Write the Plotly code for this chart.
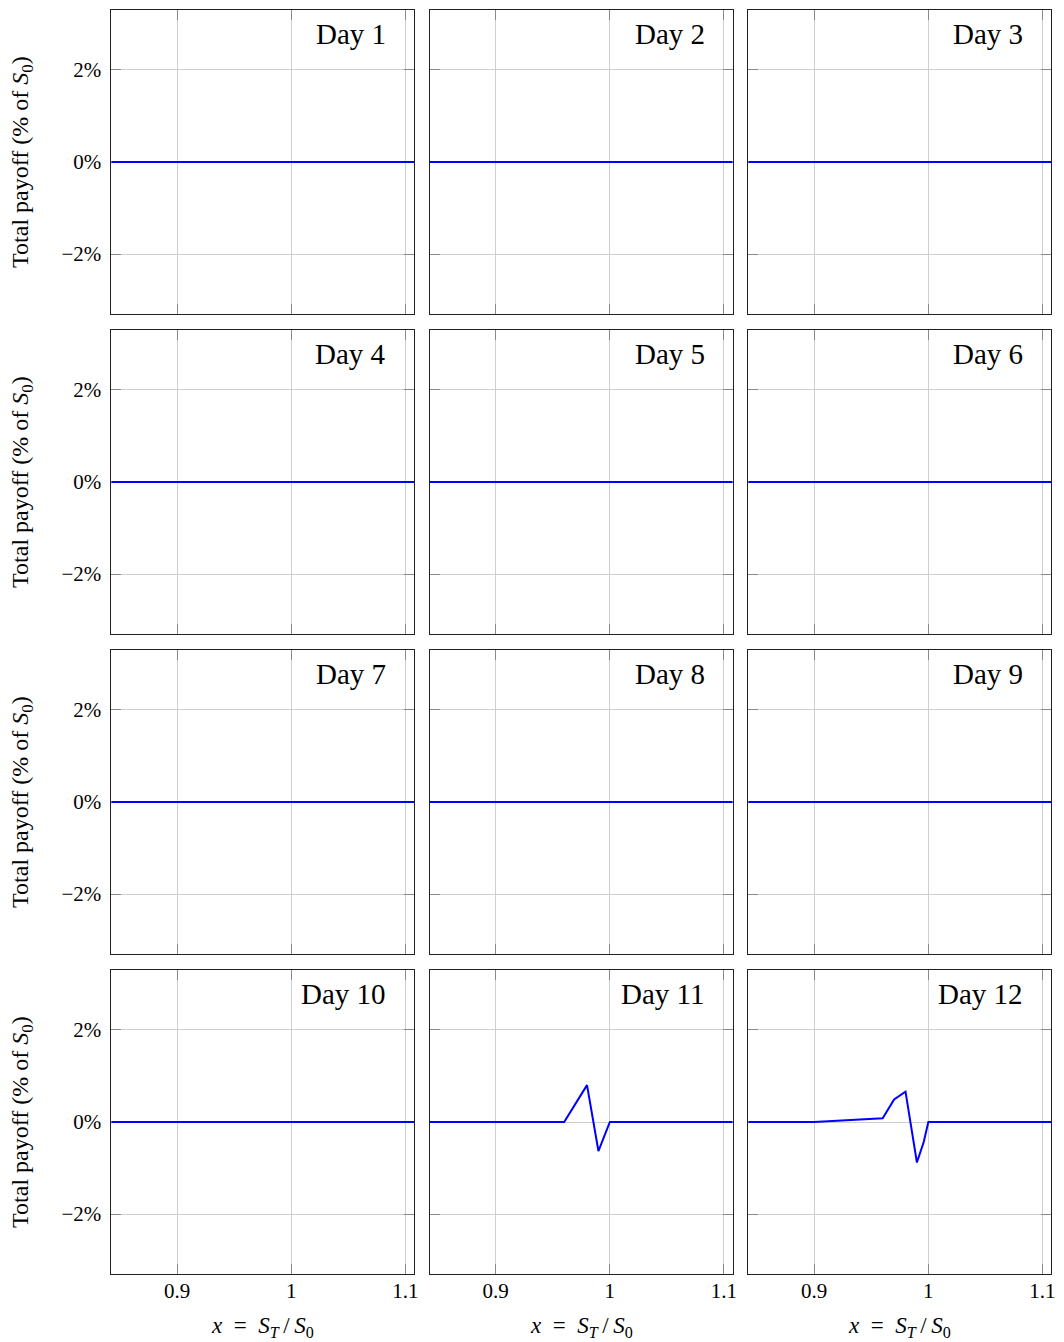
import plotly.graph_objects as go

# Payoff profiles (in % of S0) against x = S_T / S0, one panel per day
days = list(range(1, 13))

x_flat = [0.80, 1.20]
y_flat = [0.0, 0.0]

x_day11 = [0.80, 0.96, 0.98, 0.99, 1.00, 1.20]
y_day11 = [0.0, 0.0, 0.80, -0.63, 0.0, 0.0]

x_day12 = [0.80, 0.90, 0.96, 0.97, 0.98, 0.99, 0.996, 1.00, 1.20]
y_day12 = [0.0, 0.0, 0.08, 0.49, 0.66, -0.88, -0.43, 0.0, 0.0]

x_series = {d: x_flat for d in days}
y_series = {d: y_flat for d in days}
x_series[11], y_series[11] = x_day11, y_day11
x_series[12], y_series[12] = x_day12, y_day12

x_ticks = [0.9, 1.0, 1.1]
x_ticktext = ["0.9", "1", "1.1"]
y_ticks = [-2, 0, 2]
y_ticktext = ["\u22122%", "0%", "2%"]

W, H = 1064, 1342
col_px = [(112, 416), (432, 736), (752, 1056)]
row_px = [(10, 314), (330, 634), (650, 954), (970, 1274)]
FONT = "Liberation Serif"

fig = go.Figure()
layout = dict(
    width=W, height=H,
    margin=dict(l=0, r=0, t=0, b=0),
    paper_bgcolor="white", plot_bgcolor="white",
    showlegend=False,
    font=dict(family=FONT, size=21, color="black"),
)
annotations = []

for i, d in enumerate(days):
    r, c = divmod(i, 3)
    k = i + 1
    xa = "x" if k == 1 else f"x{k}"
    ya = "y" if k == 1 else f"y{k}"
    fig.add_trace(go.Scatter(
        x=x_series[d], y=y_series[d], mode="lines",
        line=dict(color="#0000ff", width=2),
        xaxis=xa, yaxis=ya, hoverinfo="skip",
    ))
    L, R = col_px[c]
    T, B = row_px[r]
    common = dict(
        showgrid=True, gridcolor="#cfcfcf", gridwidth=1,
        zeroline=False, showline=True, linecolor="#222", linewidth=1,
        mirror="ticks", ticks="inside", ticklen=10, tickcolor="#8a8a8a",
        tickwidth=1, layer="below traces",
        tickfont=dict(family=FONT, size=21, color="black"),
    )
    layout["xaxis" if k == 1 else f"xaxis{k}"] = dict(
        common, domain=[L / W, R / W], anchor=ya,
        range=[0.8424, 1.1075], tickvals=x_ticks, ticktext=x_ticktext,
        showticklabels=(r == 3), ticklabelstandoff=-2,
    )
    layout["yaxis" if k == 1 else f"yaxis{k}"] = dict(
        common, domain=[1 - B / H, 1 - T / H], anchor=xa,
        range=[-3.3, 3.3], tickvals=y_ticks, ticktext=y_ticktext,
        showticklabels=(c == 0), ticklabelstandoff=5,
    )
    annotations.append(dict(
        text=f"Day {d}", xref="paper", yref="paper",
        x=(R - 26) / W, y=1 - (T + 24) / H,
        xanchor="right", yanchor="middle", showarrow=False,
        font=dict(family=FONT, size=29, color="black"),
    ))

for r, (T, B) in enumerate(row_px):
    annotations.append(dict(
        text="Total payoff (% of <i>S</i><sub>0</sub>)",
        xref="paper", yref="paper",
        x=22 / W, y=1 - (T + B) / 2 / H, textangle=-90,
        xanchor="center", yanchor="middle", showarrow=False,
        font=dict(family=FONT, size=24, color="black"),
    ))

for c, (L, R) in enumerate(col_px):
    annotations.append(dict(
        text="<i>x</i>\u2002=\u2002<i>S</i><sub><i>T</i></sub>\u2009/\u2009<i>S</i><sub>0</sub>",
        xref="paper", yref="paper",
        x=(L + R) / 2 / W, y=1 - 1327 / H,
        xanchor="center", yanchor="middle", showarrow=False,
        font=dict(family=FONT, size=23, color="black"),
    ))

layout["annotations"] = annotations
fig.update_layout(**layout)
fig.write_html("out.html")
